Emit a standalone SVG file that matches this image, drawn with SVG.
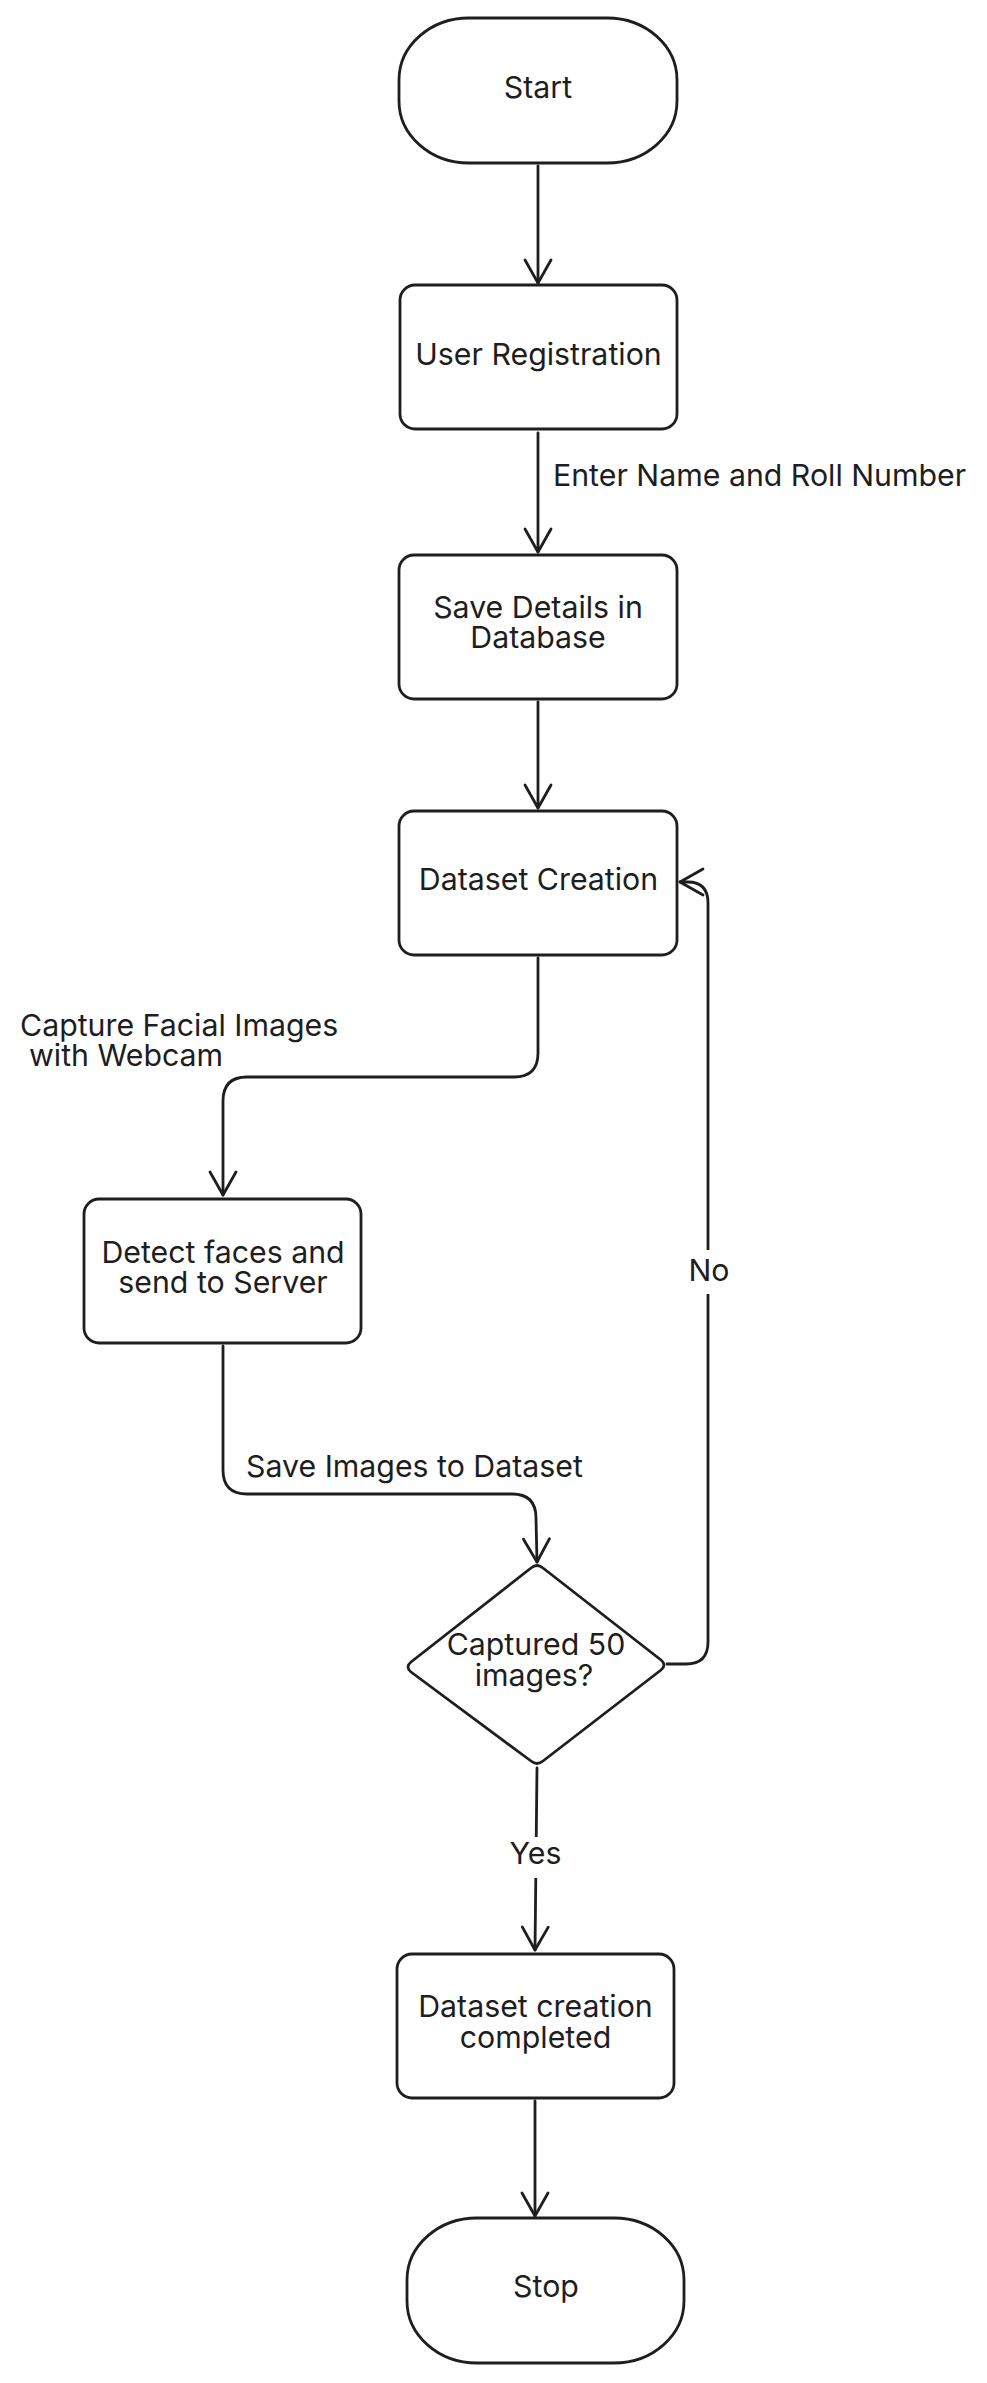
<svg xmlns="http://www.w3.org/2000/svg" width="987" height="2383" viewBox="0 0 987 2383">
<defs>
<style>
.shape{fill:none;stroke:#1e1e1e;stroke-width:2.8;stroke-linejoin:round;stroke-linecap:round}
.edge{fill:none;stroke:#1e1e1e;stroke-width:2.8;stroke-linejoin:round;stroke-linecap:round}
.t{font-family:Inter,"Liberation Sans",sans-serif;font-size:30.3px;fill:#1e1e1e}
.c{text-anchor:middle}
.bg{fill:#ffffff;stroke:none}
</style>
<marker id="arr" viewBox="-26 -16 30 32" refX="0" refY="0" markerWidth="30" markerHeight="32" markerUnits="userSpaceOnUse" orient="auto">
<path d="M-23,-13 L0,0 L-23,13" fill="none" stroke="#1e1e1e" stroke-width="2.8" stroke-linecap="round" stroke-linejoin="round"/>
</marker>
</defs>
<rect width="987" height="2383" fill="#ffffff"/>
<g id="connectors">
<path class="edge" d="M538,166 L538,283" marker-end="url(#arr)"/>
<path class="edge" d="M538,433 L538,552" marker-end="url(#arr)"/>
<path class="edge" d="M538,702 L538,808" marker-end="url(#arr)"/>
<path class="edge" d="M538,958 L538,1053 Q538,1077 514,1077 L247,1077 Q223,1077 223,1101 L223,1195" marker-end="url(#arr)"/>
<path class="edge" d="M223,1346 L223,1470 Q223,1494 247,1494 L512,1494 Q536,1494 536,1518 L537,1562" marker-end="url(#arr)"/>
<path class="edge" d="M667,1664 L686,1664 Q708,1664 708,1642 L708,903 Q708,882 688,882 L680,882" marker-end="url(#arr)"/>
<path class="edge" d="M537,1768 L535,1950" marker-end="url(#arr)"/>
<path class="edge" d="M535,2101 L535,2216" marker-end="url(#arr)"/>
<rect class="bg" x="690" y="1250" width="38" height="44"/>
<rect class="bg" x="508" y="1837" width="56" height="41"/>
<text class="t" x="553" y="486">Enter Name and Roll Number</text>
<text class="t"><tspan x="20" y="1036">Capture Facial Images</tspan><tspan x="29" y="1066">with Webcam</tspan></text>
<text class="t" x="246" y="1477">Save Images to Dataset</text>
<text class="t c" x="709" y="1281">No</text>
<text class="t c" x="535.5" y="1864">Yes</text>
</g>
<g id="start">
<rect class="shape" x="399" y="18" width="278" height="145" rx="70" ry="62"/>
<text class="t c" x="538" y="98">Start</text>
</g>
<g id="user-registration">
<rect class="shape" x="400" y="285" width="277" height="144" rx="15"/>
<text class="t c" x="538.5" y="365">User Registration</text>
</g>
<g id="save-details">
<rect class="shape" x="399" y="555" width="278" height="144" rx="15"/>
<text class="t c"><tspan x="538" y="618">Save Details in</tspan><tspan x="538" y="648">Database</tspan></text>
</g>
<g id="dataset-creation">
<rect class="shape" x="399" y="811" width="278" height="144" rx="15"/>
<text class="t c" x="538.5" y="890">Dataset Creation</text>
</g>
<g id="detect-faces">
<rect class="shape" x="84" y="1199" width="277" height="144" rx="15"/>
<text class="t c"><tspan x="223" y="1263">Detect faces and</tspan><tspan x="223" y="1293">send to Server</tspan></text>
</g>
<g id="captured-decision">
<path class="shape" d="M531,1568 Q537,1563 543,1568 L661,1660 Q667,1665 661,1670 L543,1761 Q537,1766 531,1761 L411,1672 Q405,1667 411,1662 Z"/>
<text class="t c"><tspan x="536" y="1655">Captured 50</tspan><tspan x="534" y="1686">images?</tspan></text>
</g>
<g id="dataset-completed">
<rect class="shape" x="397" y="1954" width="277" height="144" rx="15"/>
<text class="t c"><tspan x="535.5" y="2017">Dataset creation</tspan><tspan x="535.5" y="2048">completed</tspan></text>
</g>
<g id="stop">
<rect class="shape" x="407" y="2218" width="277" height="145" rx="70" ry="62"/>
<text class="t c" x="546" y="2297">Stop</text>
</g>
</svg>
